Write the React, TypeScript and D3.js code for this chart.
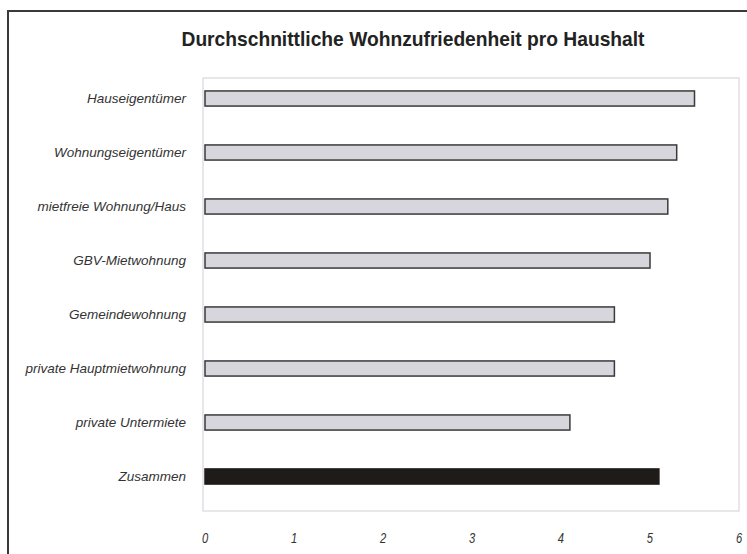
import React from "react";
import * as d3 from "d3";

const categories = [
  "Hauseigentümer",
  "Wohnungseigentümer",
  "mietfreie Wohnung/Haus",
  "GBV-Mietwohnung",
  "Gemeindewohnung",
  "private Hauptmietwohnung",
  "private Untermiete",
  "Zusammen",
];
const values = [5.5, 5.3, 5.2, 5.0, 4.6, 4.6, 4.1, 5.1];
const tickValues = [0, 1, 2, 3, 4, 5, 6];
const title = "Durchschnittliche Wohnzufriedenheit pro Haushalt";

const W = 747;
const H = 554;

export default function App() {
  const x = d3.scaleLinear().domain([0, 6]).range([205, 739]);
  const y = d3
    .scaleBand<string>()
    .domain(categories)
    .range([71.5, 503.5])
    .paddingInner(0.72)
    .paddingOuter(0.36);
  const frame = { x0: 203, x1: 739, y0: 78, y1: 511 };
  const font = "'Liberation Sans', Arial, sans-serif";

  return (
    <svg
      width={W}
      height={H}
      style={{ position: "absolute", left: 0, top: 0, background: "#fff" }}
    >
      <rect x={0} y={0} width={W} height={H} fill="#fff" />
      <path d={`M8,${H} L8,11 L${W},11`} fill="none" stroke="#3a3a3a" strokeWidth={2} />
      <text
        x={413}
        y={46}
        textAnchor="middle"
        fontFamily={font}
        fontWeight="bold"
        fontSize={21}
        fill="#222"
        textLength={463}
        lengthAdjust="spacingAndGlyphs"
      >
        {title}
      </text>
      <rect
        x={frame.x0}
        y={frame.y0}
        width={frame.x1 - frame.x0}
        height={frame.y1 - frame.y0}
        fill="none"
        stroke="#cfcfd8"
        strokeWidth={1}
      />
      {categories.map((c, i) => {
        const yy = y(c)!;
        const bw = y.bandwidth();
        const isTotal = c === "Zusammen";
        return (
          <g key={c}>
            <rect
              x={x(0)}
              y={yy}
              width={x(values[i]) - x(0)}
              height={bw}
              fill={isTotal ? "#1f1b19" : "#d6d6dc"}
              stroke={isTotal ? "#1f1b19" : "#3a3a3a"}
              strokeWidth={1.5}
            />
            <text
              x={186}
              y={yy + bw / 2}
              dy="0.35em"
              textAnchor="end"
              fontFamily={font}
              fontStyle="italic"
              fontSize={13.5}
              fill="#333"
            >
              {c}
            </text>
          </g>
        );
      })}
      {tickValues.map((t) => (
        <text
          key={t}
          x={x(t)}
          y={543}
          textAnchor="middle"
          fontFamily={font}
          fontStyle="italic"
          fontSize={14}
          fill="#333"
          transform={`translate(${x(t)},0) scale(0.8,1) translate(${-x(t)},0)`}
        >
          {t}
        </text>
      ))}
    </svg>
  );
}
